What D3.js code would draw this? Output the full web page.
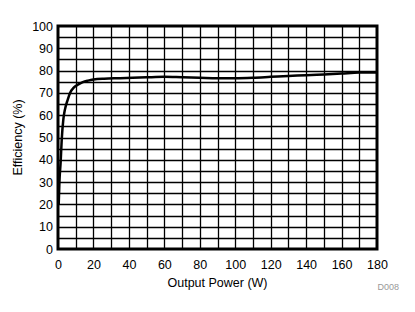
<!DOCTYPE html>
<meta charset="utf-8">
<title>Efficiency vs Output Power</title>
<script src="https://d3js.org/d3.v7.min.js"></script>
<style>
  body { margin: 0; background: #fff; }
  svg { display: block; font-family: "Liberation Sans", Arial, sans-serif; }
</style>
<body>
<svg width="415" height="312"></svg>
<script>
  // Output power (W) and efficiency (%)
  var power = [0.4, 0.8, 1.5, 2.1, 3, 3.9, 5.5, 6.8, 9, 11.5, 14, 17, 20, 26, 35, 50, 60, 70, 80, 90, 100, 110, 120, 130, 140, 150, 160, 170, 180];
  var efficiency = [20, 30, 39, 49, 58, 62.5, 67, 70, 72.5, 73.8, 74.8, 75.5, 76, 76.4, 76.6, 77, 77.2, 77, 76.8, 76.6, 76.6, 76.8, 77.2, 77.6, 77.9, 78.3, 78.7, 79.1, 79.2];
  var xTicks = [0, 20, 40, 60, 80, 100, 120, 140, 160, 180];
  var yTicks = [0, 10, 20, 30, 40, 50, 60, 70, 80, 90, 100];

  var data = power.map(function(p, i) { return {p: p, e: efficiency[i]}; });

  var svg = d3.select("svg"),
      margin = {top: 26, right: 38, bottom: 63, left: 58},
      width = 415 - margin.left - margin.right,
      height = 312 - margin.top - margin.bottom;

  var g = svg.append("g")
      .attr("transform", "translate(" + margin.left + "," + margin.top + ")");

  var x = d3.scaleLinear().domain([0, 180]).range([0, width]);
  var y = d3.scaleLinear().domain([0, 100]).range([height, 0]);

  // grid every 10 W and every 5 %
  g.append("g")
      .selectAll("line")
      .data(d3.range(10, 180, 10))
      .enter().append("line")
        .attr("x1", function(d) { return Math.round(x(d)) + 0.5; })
        .attr("x2", function(d) { return Math.round(x(d)) + 0.5; })
        .attr("y1", 0)
        .attr("y2", height)
        .attr("stroke", "#000")
        .attr("stroke-width", 1.3);

  g.append("g")
      .selectAll("line")
      .data(d3.range(5, 100, 5))
      .enter().append("line")
        .attr("x1", 0)
        .attr("x2", width)
        .attr("y1", function(d) { return Math.round(y(d)) + 0.5; })
        .attr("y2", function(d) { return Math.round(y(d)) + 0.5; })
        .attr("stroke", "#000")
        .attr("stroke-width", 1.3);

  // curve
  var line = d3.line()
      .x(function(d) { return x(d.p); })
      .y(function(d) { return y(d.e); })
      .curve(d3.curveMonotoneX);

  g.append("path")
      .datum(data)
      .attr("fill", "none")
      .attr("stroke", "#000")
      .attr("stroke-width", 2.5)
      .attr("d", line);

  // frame
  g.append("rect")
      .attr("x", 0)
      .attr("y", 0)
      .attr("width", width)
      .attr("height", height)
      .attr("fill", "none")
      .attr("stroke", "#000")
      .attr("stroke-width", 3);

  // axes (labels only)
  var xAxis = g.append("g")
      .attr("transform", "translate(0," + height + ")")
      .call(d3.axisBottom(x).tickValues(xTicks).tickSize(0).tickPadding(11));
  var yAxis = g.append("g")
      .call(d3.axisLeft(y).tickValues(yTicks).tickSize(0).tickPadding(5));

  [xAxis, yAxis].forEach(function(a) {
    a.select(".domain").remove();
    a.selectAll("text")
        .attr("fill", "#000")
        .style("font-size", "12.5px")
        .style("font-family", "'Liberation Sans', Arial, sans-serif");
  });

  svg.append("text")
      .attr("x", margin.left + width / 2)
      .attr("y", 287)
      .attr("text-anchor", "middle")
      .style("font-size", "12.5px")
      .text("Output Power (W)");

  svg.append("text")
      .attr("transform", "translate(22," + (margin.top + height / 2) + ") rotate(-90)")
      .attr("text-anchor", "middle")
      .style("font-size", "12.5px")
      .text("Efficiency (%)");

  svg.append("text")
      .attr("x", 399)
      .attr("y", 290)
      .attr("text-anchor", "end")
      .attr("fill", "#999")
      .style("font-size", "9px")
      .text("D008");
</script>
</body>
